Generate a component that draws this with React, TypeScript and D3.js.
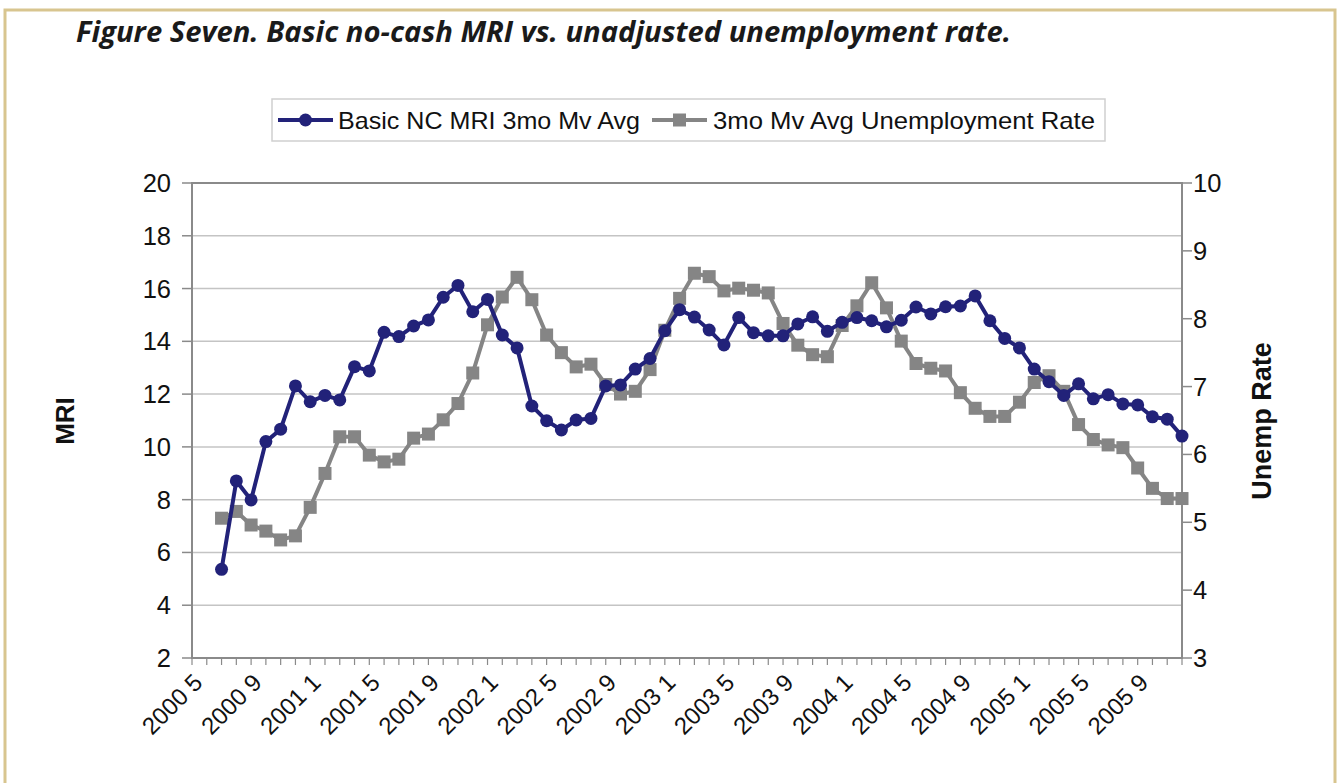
import React from "react";
import * as d3 from "d3";

const categories: string[] = [
  "2000 5","2000 6","2000 7","2000 8","2000 9","2000 10","2000 11","2000 12",
  "2001 1","2001 2","2001 3","2001 4","2001 5","2001 6","2001 7","2001 8","2001 9","2001 10","2001 11","2001 12",
  "2002 1","2002 2","2002 3","2002 4","2002 5","2002 6","2002 7","2002 8","2002 9","2002 10","2002 11","2002 12",
  "2003 1","2003 2","2003 3","2003 4","2003 5","2003 6","2003 7","2003 8","2003 9","2003 10","2003 11","2003 12",
  "2004 1","2004 2","2004 3","2004 4","2004 5","2004 6","2004 7","2004 8","2004 9","2004 10","2004 11","2004 12",
  "2005 1","2005 2","2005 3","2005 4","2005 5","2005 6","2005 7","2005 8","2005 9","2005 10","2005 11","2005 12",
];

const mriValues: (number | null)[] = [
  null, null,
  5.36, 8.71, 7.99, 10.2, 10.67, 12.31,
  11.71, 11.95, 11.78, 13.04, 12.88, 14.34, 14.18, 14.58, 14.81, 15.67, 16.12, 15.12,
  15.59, 14.24, 13.75, 11.55, 10.99, 10.64, 11.02, 11.08, 12.31, 12.35, 12.95, 13.35,
  14.4, 15.2, 14.92, 14.43, 13.86, 14.9, 14.33, 14.21, 14.21, 14.66, 14.93, 14.38,
  14.72, 14.9, 14.78, 14.55, 14.8, 15.3, 15.04, 15.31, 15.34, 15.72, 14.78, 14.11,
  13.75, 12.95, 12.47, 11.95, 12.39, 11.82, 11.98, 11.63, 11.59, 11.14, 11.05, 10.41,
];

const unempValues: (number | null)[] = [
  null, null,
  5.06, 5.16, 4.96, 4.87, 4.74, 4.8,
  5.22, 5.72, 6.26, 6.26, 5.99, 5.89, 5.93, 6.24, 6.3, 6.51, 6.75, 7.2,
  7.91, 8.32, 8.61, 8.28, 7.76, 7.5, 7.29, 7.33, 7.03, 6.89, 6.93, 7.25,
  7.83, 8.3, 8.67, 8.62, 8.41, 8.45, 8.42, 8.38, 7.93, 7.61, 7.47, 7.44,
  7.9, 8.19, 8.53, 8.16, 7.67, 7.34, 7.27, 7.23, 6.91, 6.68, 6.56, 6.56,
  6.77, 7.06, 7.16, 6.93, 6.44, 6.22, 6.14, 6.1, 5.8, 5.5, 5.35, 5.35,
];

const leftTicks = [2, 4, 6, 8, 10, 12, 14, 16, 18, 20];
const rightTicks = [3, 4, 5, 6, 7, 8, 9, 10];

const titleText = "Figure Seven. Basic no-cash MRI vs. unadjusted unemployment rate.";
const seriesNames = ["Basic NC MRI 3mo Mv Avg", "3mo Mv Avg Unemployment Rate"];

const W = 1340;
const H = 783;
const plot = { left: 192, right: 1182, top: 183, bottom: 658 };

const BLUE = "#222279";
const GRAY = "#858585";
const FONT = "'Liberation Sans', Arial, sans-serif";

export default function App() {
  const x = d3.scalePoint<string>().domain(categories).range([plot.left, plot.right]);
  const yL = d3.scaleLinear().domain([2, 20]).range([plot.bottom, plot.top]);
  const yR = d3.scaleLinear().domain([3, 10]).range([plot.bottom, plot.top]);

  const mriPts = categories
    .map((c, i) => ({ c, v: mriValues[i] }))
    .filter((d) => d.v !== null) as { c: string; v: number }[];
  const unPts = categories
    .map((c, i) => ({ c, v: unempValues[i] }))
    .filter((d) => d.v !== null) as { c: string; v: number }[];

  const lineL = d3
    .line<{ c: string; v: number }>()
    .x((d) => x(d.c) as number)
    .y((d) => yL(d.v));
  const lineR = d3
    .line<{ c: string; v: number }>()
    .x((d) => x(d.c) as number)
    .y((d) => yR(d.v));

  const sq = 13;

  return (
    <svg
      width={W}
      height={H}
      style={{ position: "absolute", left: 0, top: 0, background: "#fff" }}
      fontFamily={FONT}
    >
      <rect x={0} y={0} width={W} height={H} fill="#fff" />
      {/* outer frame */}
      <rect x={5} y={10} width={1330} height={800} fill="none" stroke="#d8c58f" strokeWidth={3} />

      {/* title */}
      <text
        x={76}
        y={42}
        fontFamily="'Open Sans', 'Noto Sans', sans-serif"
        fontWeight="bold"
        fontStyle="italic"
        fontSize={29}
        fill="#1a1a1a"
        textLength={935}
        lengthAdjust="spacingAndGlyphs"
      >
        {titleText}
      </text>

      {/* legend */}
      <rect x={272} y={99} width={833} height={42} fill="#fff" stroke="#cfcfcf" strokeWidth={1.5} />
      <line x1={278} x2={333} y1={120} y2={120} stroke={BLUE} strokeWidth={4} />
      <circle cx={305.5} cy={120} r={6.5} fill={BLUE} />
      <text x={338} y={129} fontSize={24} fill="#111" textLength={302} lengthAdjust="spacingAndGlyphs">
        {seriesNames[0]}
      </text>
      <line x1={652} x2={707} y1={120} y2={120} stroke={GRAY} strokeWidth={4} />
      <rect x={679.5 - 6.5} y={113.5} width={13} height={13} fill={GRAY} />
      <text x={713} y={129} fontSize={24} fill="#111" textLength={382} lengthAdjust="spacingAndGlyphs">
        {seriesNames[1]}
      </text>

      {/* gridlines */}
      {leftTicks.map((t) => (
        <line
          key={"g" + t}
          x1={plot.left}
          x2={plot.right}
          y1={yL(t)}
          y2={yL(t)}
          stroke="#c4c4c4"
          strokeWidth={1.5}
        />
      ))}

      {/* plot border */}
      <rect
        x={plot.left}
        y={plot.top}
        width={plot.right - plot.left}
        height={plot.bottom - plot.top}
        fill="none"
        stroke="#8a8a8a"
        strokeWidth={2}
      />

      {/* left ticks */}
      {leftTicks.map((t) => (
        <g key={"l" + t}>
          <line x1={plot.left - 10} x2={plot.left} y1={yL(t)} y2={yL(t)} stroke="#8a8a8a" strokeWidth={1.5} />
          <text x={171} y={yL(t) + 9} fontSize={25.5} textAnchor="end" fill="#111">
            {t}
          </text>
        </g>
      ))}

      {/* right ticks */}
      {rightTicks.map((t) => (
        <g key={"r" + t}>
          <line x1={plot.right} x2={plot.right + 10} y1={yR(t)} y2={yR(t)} stroke="#8a8a8a" strokeWidth={1.5} />
          <text x={1193} y={yR(t) + 9} fontSize={25.5} textAnchor="start" fill="#111">
            {t}
          </text>
        </g>
      ))}

      {/* x ticks */}
      {categories.map((c) => (
        <line
          key={"xt" + c}
          x1={x(c) as number}
          x2={x(c) as number}
          y1={plot.bottom}
          y2={plot.bottom + 7}
          stroke="#8a8a8a"
          strokeWidth={1.2}
        />
      ))}
      {categories.map((c, i) =>
        i % 4 === 0 ? (
          <text
            key={"xl" + c}
            transform={`translate(${(x(c) as number) + 12},${684}) rotate(-45)`}
            fontSize={24}
            textAnchor="end"
            fill="#111"
          >
            {c}
          </text>
        ) : null
      )}

      {/* axis titles */}
      <text
        transform={`translate(${74},${421}) rotate(-90)`}
        fontSize={26}
        fontWeight="bold"
        textAnchor="middle"
        fill="#111"
      >
        MRI
      </text>
      <text
        transform={`translate(${1271},${421}) rotate(-90)`}
        fontSize={27}
        fontWeight="bold"
        textAnchor="middle"
        fill="#111"
      >
        Unemp Rate
      </text>

      {/* unemployment series (gray squares) */}
      <path d={lineR(unPts) || ""} fill="none" stroke={GRAY} strokeWidth={4} />
      {unPts.map((d) => (
        <rect
          key={"s" + d.c}
          x={(x(d.c) as number) - sq / 2}
          y={yR(d.v) - sq / 2}
          width={sq}
          height={sq}
          fill={GRAY}
        />
      ))}

      {/* MRI series (navy circles) */}
      <path d={lineL(mriPts) || ""} fill="none" stroke={BLUE} strokeWidth={4} />
      {mriPts.map((d) => (
        <circle key={"c" + d.c} cx={x(d.c) as number} cy={yL(d.v)} r={6.5} fill={BLUE} />
      ))}
    </svg>
  );
}
